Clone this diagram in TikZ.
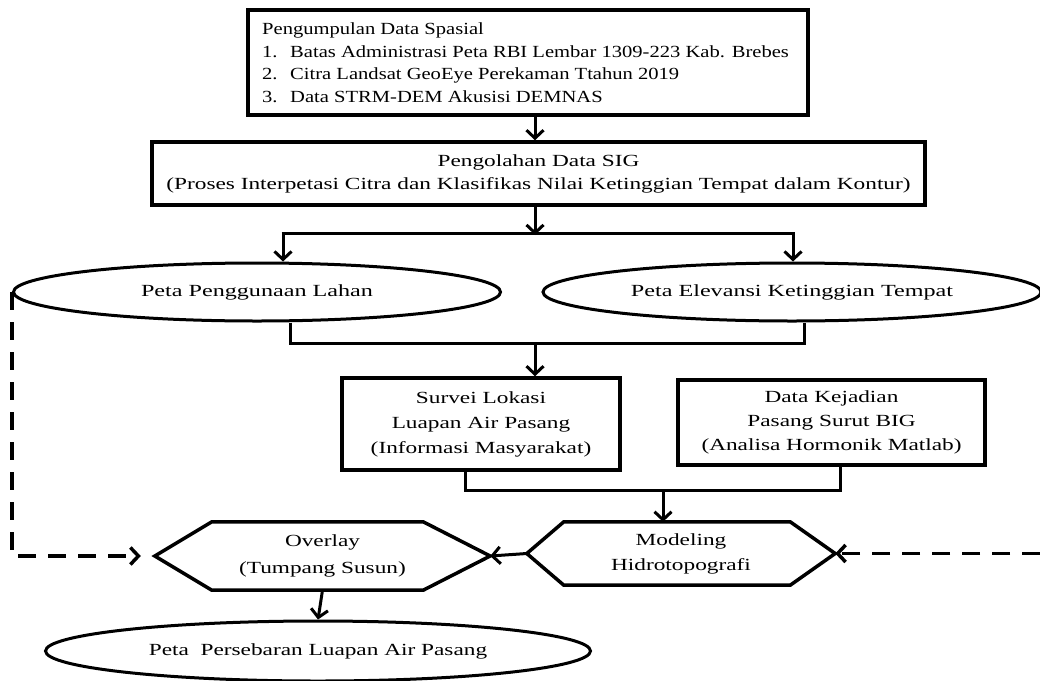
\documentclass[tikz,border=0pt]{standalone}
\usepackage{fontspec}
\setmainfont{Liberation Serif}[FakeStretch=1.42]
\newfontfamily\condfont{Liberation Serif}[FakeStretch=1.37]
\newfontfamily\boxfont{Liberation Serif}[FakeStretch=1.21]
\usetikzlibrary{shapes.geometric,arrows.meta}
\begin{document}
\begin{tikzpicture}[x=1pt,y=-1pt,
  every node/.style={font=\fontsize{17}{22.5}\selectfont},
  box/.style={draw,line width=3.5pt,rectangle,align=center,inner sep=0pt},
  oval/.style={draw,line width=3pt,ellipse,inner sep=0pt},
  hexnode/.style={rectangle,align=center,inner sep=0pt},
  hexline/.style={line width=3.5pt,line join=miter},
  conn/.style={line width=3pt},
  arr/.style={conn,-{Straight Barb[length=8pt,width=17pt]}},
  dasharr/.style={line width=3.5pt,dash pattern=on 18pt off 12pt,-{Straight Barb[length=8pt,width=17pt]}}
]
\useasboundingbox (0,0) rectangle (1040,680);

% boxes
\node[box,minimum width=560pt,minimum height=105pt] (b1) at (528,62.5) {};
\node[anchor=west,align=left,inner sep=0pt,font=\fontsize{17}{22.5}\boxfont] (b1t) at (262,62.5)
 {Pengumpulan Data Spasial\\
  \makebox[28pt][l]{1.}Batas Administrasi Peta RBI Lembar 1309-223 Kab. Brebes\\
  \makebox[28pt][l]{2.}Citra Landsat GeoEye Perekaman Ttahun 2019\\
  \makebox[28pt][l]{3.}Data STRM-DEM Akusisi DEMNAS};
\node[box,minimum width=773pt,minimum height=63pt,font=\fontsize{17}{23}\condfont] (b2) at (538.5,173.5)
 {Pengolahan Data SIG\\(Proses Interpetasi Citra dan Klasifikas Nilai Ketinggian Tempat dalam Kontur)};

\node[oval,minimum width=487pt,minimum height=58pt] (e1) at (257,292) {Peta Penggunaan Lahan};
\node[oval,minimum width=498pt,minimum height=58pt] (e2) at (792,292) {Peta Elevansi Ketinggian Tempat};

\node[box,minimum width=278pt,minimum height=92pt,font=\fontsize{17}{25}\condfont] (b3) at (481,424)
 {Survei Lokasi\\Luapan Air Pasang\\(Informasi Masyarakat)};
\node[box,minimum width=307pt,minimum height=85pt,font=\fontsize{17}{24}\condfont] (b4) at (831.5,422.5)
 {Data Kejadian\\Pasang Surut BIG\\(Analisa Hormonik Matlab)};

% hexagons
\node[hexnode,minimum width=308pt,minimum height=63pt,font=\fontsize{17}{25}\condfont] (mod) at (681,553.5) {Modeling\\Hidrotopografi};
\draw[hexline] (mod.west) -- ([xshift=37pt]mod.north west) -- ([xshift=-45pt]mod.north east)
  -- (mod.east) -- ([xshift=-45pt]mod.south east) -- ([xshift=37pt]mod.south west) -- cycle;
\node[hexnode,minimum width=335pt,minimum height=68pt,font=\fontsize{17}{27}\condfont] (ovl) at (322.5,556) {Overlay\\(Tumpang Susun)};
\draw[hexline] (ovl.west) -- ([xshift=57pt]ovl.north west) -- ([xshift=-67pt]ovl.north east)
  -- (ovl.east) -- ([xshift=-67pt]ovl.south east) -- ([xshift=57pt]ovl.south west) -- cycle;

\node[oval,minimum width=545pt,minimum height=60pt,font=\fontsize{17}{23}\condfont] (fin) at (318,651) {Peta~ Persebaran Luapan Air Pasang};

% helper coordinates
\coordinate (s1) at (535,233);
\coordinate (sl) at (283,233);
\coordinate (sr) at (793,233);
\coordinate (m1) at (290,343);
\coordinate (m2) at (804,343);
\coordinate (mc) at (535,343);
\coordinate (n1) at (465,490);
\coordinate (n2) at (840,490);
\coordinate (nc) at (663,490);
\coordinate (rin) at (1040,553.5);

% connectors
\draw[arr] (b1.south -| 535,0) -- (b2.north -| 535,0);
\draw[arr] (b2.south -| s1) -- ([yshift=-2pt]s1);
\draw[conn] ([xshift=-1.5pt]sl) -- ([xshift=1.5pt]sr);
\draw[arr] (sl) -- (e1.north -| sl);
\draw[arr] (sr) -- (e2.north -| sr);
\draw[conn] (e1.south -| m1) -- (m1) -- (m2) -- (e2.south -| m2);
\draw[arr] (mc) -- (b3.north -| mc);
\draw[conn] (b3.south -| n1) -- (n1) -- (n2) -- (b4.south -| n2);
\draw[arr] (nc) -- (mod.north -| nc);
\draw[arr] (mod.west) -- (ovl.east);
\draw[dasharr] (rin) -- (mod.east);
\draw[dasharr] (e1.west) |- ([xshift=-14pt]ovl.west);
\draw[arr] (ovl.south) -- (fin.north);
\end{tikzpicture}
\end{document}
